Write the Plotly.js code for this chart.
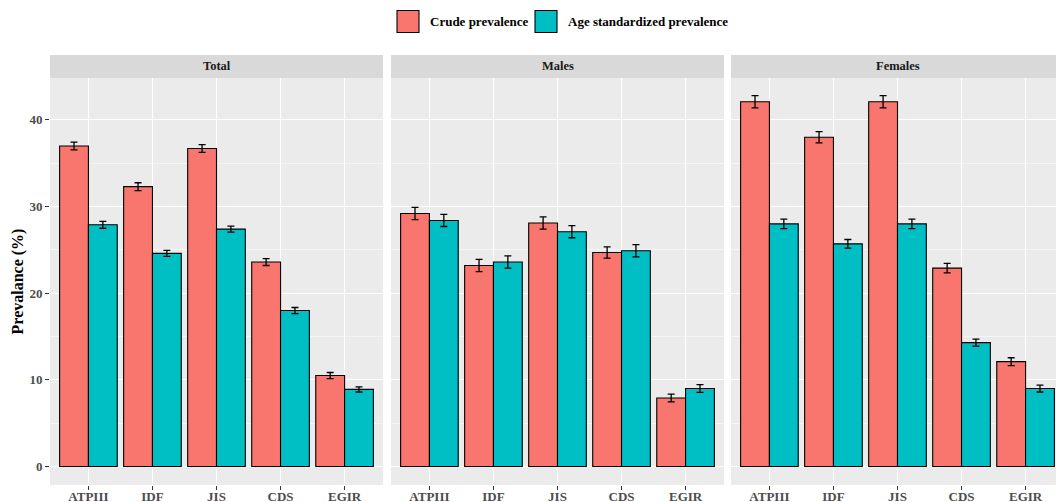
<!DOCTYPE html>
<html>
<head>
<meta charset="utf-8">
<script src="https://cdn.plot.ly/plotly-3.0.1.min.js"></script>
<style>
  html, body { margin: 0; padding: 0; overflow: hidden; background: #fff; }
  #chart { width: 1066px; height: 502px; }
</style>
</head>
<body>
<div id="chart"></div>
<script>
// Metabolic syndrome definitions
const criteria = ['ATPIII', 'IDF', 'JIS', 'CDS', 'EGIR'];
const panels = ['Total', 'Males', 'Females'];
const seriesNames = ['Crude prevalence', 'Age standardized prevalence'];

// Prevalence (%) by panel
const crudeTotal   = [37.0, 32.3, 36.7, 23.6, 10.5];
const ageStdTotal  = [27.9, 24.6, 27.4, 18.0, 8.9];
const crudeMales   = [29.2, 23.2, 28.1, 24.7, 7.9];
const ageStdMales  = [28.4, 23.6, 27.1, 24.9, 9.0];
const crudeFemales = [42.1, 38.0, 42.1, 22.9, 12.1];
const ageStdFemales= [28.0, 25.7, 28.0, 14.3, 9.0];

// Half-widths of the 95% confidence intervals
const crudeTotalCI   = [0.45, 0.45, 0.45, 0.4, 0.35];
const ageStdTotalCI  = [0.4, 0.35, 0.35, 0.35, 0.3];
const crudeMalesCI   = [0.7, 0.7, 0.7, 0.65, 0.45];
const ageStdMalesCI  = [0.7, 0.7, 0.7, 0.7, 0.45];
const crudeFemalesCI = [0.7, 0.65, 0.7, 0.55, 0.45];
const ageStdFemalesCI= [0.55, 0.5, 0.55, 0.4, 0.4];

const colors = ['#F8766D', '#00BFC4'];
const serif = 'Liberation Serif, Times New Roman, serif';

const panelData = [
  [crudeTotal, ageStdTotal, crudeTotalCI, ageStdTotalCI],
  [crudeMales, ageStdMales, crudeMalesCI, ageStdMalesCI],
  [crudeFemales, ageStdFemales, crudeFemalesCI, ageStdFemalesCI]
];

const xNames = ['x', 'x2', 'x3'];
const traces = [];
panelData.forEach((d, p) => {
  [0, 1].forEach(s => {
    traces.push({
      type: 'bar',
      name: seriesNames[s],
      x: criteria,
      y: d[s],
      xaxis: xNames[p],
      yaxis: 'y',
      marker: { color: colors[s], line: { color: '#000', width: 1.1 } },
      error_y: { type: 'data', array: d[s + 2], visible: true, color: '#000', thickness: 1.3, width: 3.5 },
      showlegend: false,
      hoverinfo: 'x+y'
    });
  });
});

// Panel geometry (pixels inside the plotting area)
const plotW = 1015, plotH = 407;
const domains = [[0, 333 / plotW], [341 / plotW, 674 / plotW], [681 / plotW, 1014 / plotW]];

function xAxis(i) {
  return {
    domain: domains[i],
    anchor: 'y',
    type: 'category',
    range: [-0.6, 4.6],
    showgrid: true,
    gridcolor: '#FFFFFF',
    gridwidth: 1.1,
    zeroline: false,
    showline: false,
    ticks: 'outside',
    ticklen: 4,
    tickwidth: 1,
    tickcolor: '#333333',
    ticklabelstandoff: -5,
    tickfont: { family: serif, size: 13, color: '#4D4D4D', weight: 'bold' },
    fixedrange: true
  };
}

const shapes = [];
const annotations = [];
const stripTop = 1 + 23 / plotH;
panels.forEach((name, i) => {
  shapes.push({
    type: 'rect', xref: 'paper', yref: 'paper',
    x0: domains[i][0], x1: domains[i][1], y0: 1, y1: stripTop,
    fillcolor: '#D9D9D9', line: { width: 0 }, layer: 'below'
  });
  annotations.push({
    text: name, xref: 'paper', yref: 'paper',
    x: (domains[i][0] + domains[i][1]) / 2, y: (1 + stripTop) / 2,
    xanchor: 'center', yanchor: 'middle', showarrow: false,
    font: { family: serif, size: 12.5, color: '#1A1A1A', weight: 'bold' }
  });
});

// Legend keys and labels above the panels
const toPX = px => (px - 50) / plotW;
const toPY = py => (485 - py) / plotH;
const legendKeys = [[397, 428], [535, 566]];
legendKeys.forEach((k, s) => {
  shapes.push({
    type: 'rect', xref: 'paper', yref: 'paper',
    x0: toPX(k[0]), x1: toPX(k[0] + 22), y0: toPY(32.5), y1: toPY(10.5),
    fillcolor: colors[s], line: { color: '#000', width: 1.1 }
  });
  annotations.push({
    text: seriesNames[s], xref: 'paper', yref: 'paper',
    x: toPX(k[1]), y: toPY(21.5), xanchor: 'left', yanchor: 'middle',
    showarrow: false,
    font: { family: serif, size: 13, color: '#000', weight: 'bold' }
  });
});

const layout = {
  width: 1066,
  height: 502,
  margin: { l: 50, r: 1, t: 78, b: 17 },
  paper_bgcolor: '#FFFFFF',
  plot_bgcolor: '#EBEBEB',
  barmode: 'group',
  bargap: 0.1,
  bargroupgap: 0,
  showlegend: false,
  xaxis: xAxis(0),
  xaxis2: xAxis(1),
  xaxis3: xAxis(2),
  yaxis: {
    range: [-2.135, 44.84],
    tickvals: [0, 10, 20, 30, 40],
    showgrid: true,
    gridcolor: '#FFFFFF',
    gridwidth: 1.1,
    minor: { tickvals: [5, 15, 25, 35], showgrid: true, gridcolor: '#FFFFFF', gridwidth: 0.5, ticks: '' },
    zeroline: false,
    showline: false,
    ticks: 'outside',
    ticklen: 4,
    tickwidth: 1,
    tickcolor: '#333333',
    tickfont: { family: serif, size: 13, color: '#4D4D4D', weight: 'bold' },
    title: { text: 'Prevalance (%)', standoff: 1, font: { family: serif, size: 16, color: '#000', weight: 'bold' } },
    fixedrange: true
  },
  shapes: shapes,
  annotations: annotations
};

Plotly.newPlot('chart', traces, layout, { displayModeBar: false, staticPlot: true });
</script>
</body>
</html>
